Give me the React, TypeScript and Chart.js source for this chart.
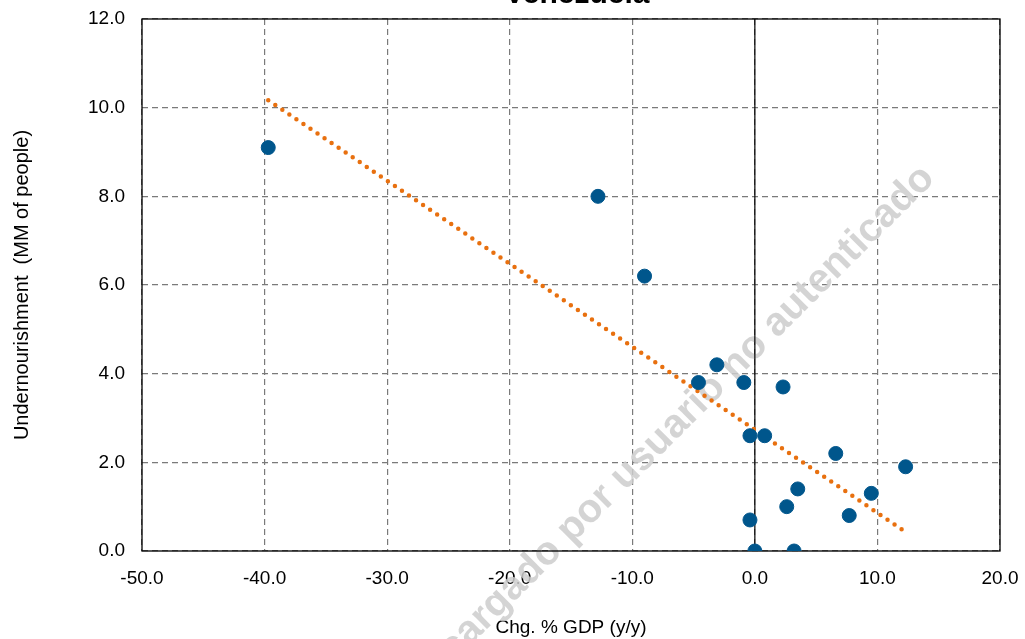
import React, { useEffect, useRef } from "react";
import { Chart, registerables } from "chart.js";

Chart.register(...registerables);

const titleText = "Venezuela";
const xAxisTitle = "Chg. % GDP (y/y)";
const yAxisTitle = "Undernourishment  (MM of people)";
const watermarkText = "Descargado por usuario no autenticado";

const gdpChange = [-39.7, -12.8, -9.0, -4.6, -3.1, -0.9, 2.3, -0.4, 0.8, 6.6, 12.3, 3.5, 9.5, 2.6, 7.7, -0.4, 0.0, 3.2];
const undernourished = [9.1, 8.0, 6.2, 3.8, 4.2, 3.8, 3.7, 2.6, 2.6, 2.2, 1.9, 1.4, 1.3, 1.0, 0.8, 0.7, 0.0, 0.0];

const trendX = [-39.7, 12.3];
const trendY = [10.17, 0.43];

const zeroLineX = [0, 0];
const zeroLineY = [0, 12];

const FONT = "'Liberation Sans', Arial, sans-serif";

export default function App() {
  const ref = useRef<HTMLCanvasElement | null>(null);

  useEffect(() => {
    if (!ref.current) return;
    const overlay = {
      id: "overlay",
      beforeDatasetsDraw(chart: any) {
        const { ctx, chartArea } = chart;
        ctx.save();
        ctx.translate(936, 180);
        ctx.rotate(-Math.PI / 4);
        ctx.font = `bold 40px ${FONT}`;
        ctx.fillStyle = "rgba(205,205,205,0.85)";
        ctx.textAlign = "right";
        ctx.textBaseline = "alphabetic";
        ctx.fillText(watermarkText, 0, 0);
        ctx.restore();
        ctx.save();
        ctx.strokeStyle = "#000";
        ctx.lineWidth = 1.3;
        ctx.strokeRect(chartArea.left, chartArea.top, chartArea.right - chartArea.left, chartArea.bottom - chartArea.top);
        ctx.restore();
      },
      afterDraw(chart: any) {
        const { ctx } = chart;
        ctx.save();
        ctx.font = `bold 30px ${FONT}`;
        ctx.fillStyle = "#000";
        ctx.textAlign = "center";
        ctx.textBaseline = "alphabetic";
        ctx.fillText(titleText, 577, 3);
        ctx.restore();
      },
    };

    const zeroPad = (s: any) => {
      s.paddingTop = 0;
      s.paddingBottom = 0;
      s.paddingLeft = 0;
      s.paddingRight = 0;
    };

    const chart = new Chart(ref.current, {
      type: "scatter",
      data: {
        datasets: [
          {
            label: "points",
            data: gdpChange.map((x, i) => ({ x, y: undernourished[i] })),
            backgroundColor: "#00568C",
            borderColor: "#00568C",
            pointRadius: 7,
            pointHoverRadius: 7,
            showLine: false,
          },
          {
            label: "trend",
            data: trendX.map((x, i) => ({ x, y: trendY[i] })),
            showLine: true,
            borderColor: "#E8700F",
            borderWidth: 4.5,
            borderDash: [0, 8.5],
            borderCapStyle: "round",
            pointRadius: 0,
            fill: false,
          },
          {
            label: "zero",
            data: zeroLineX.map((x, i) => ({ x, y: zeroLineY[i] })),
            showLine: true,
            borderColor: "#000",
            borderWidth: 1.2,
            pointRadius: 0,
            fill: false,
          },
        ],
      } as any,
      options: {
        animation: false,
        responsive: false,
        maintainAspectRatio: false,
        devicePixelRatio: 1,
        layout: { padding: { top: 19, right: 25, bottom: 0, left: 0 } },
        plugins: {
          legend: { display: false },
          tooltip: { enabled: false },
          title: { display: false },
        },
        scales: {
          x: {
            type: "linear",
            min: -50,
            max: 20,
            border: { display: false, dash: [6, 4] },
            grid: { color: "#7a7a7a", lineWidth: 1.2, drawTicks: false },
            ticks: {
              stepSize: 10,
              padding: 16,
              color: "#000",
              font: { family: FONT, size: 19 },
              callback: (v: any) => Number(v).toFixed(1),
            },
            title: {
              display: true,
              text: xAxisTitle,
              color: "#000",
              font: { family: FONT, size: 19 },
              padding: { top: 0, bottom: 0 },
            },
            afterFit: (s: any) => {
              s.height = 88;
              zeroPad(s);
            },
          } as any,
          y: {
            type: "linear",
            min: 0,
            max: 12,
            border: { display: false, dash: [6, 4] },
            grid: { color: "#7a7a7a", lineWidth: 1.2, drawTicks: false },
            ticks: {
              stepSize: 2,
              padding: 17,
              color: "#000",
              font: { family: FONT, size: 19 },
              callback: (v: any) => Number(v).toFixed(1),
            },
            title: {
              display: true,
              text: yAxisTitle,
              color: "#000",
              font: { family: FONT, size: 20 },
              padding: { top: 10, bottom: 0 },
            },
            afterFit: (s: any) => {
              s.width = 142;
              zeroPad(s);
            },
          } as any,
        },
      },
      plugins: [overlay],
    });
    return () => chart.destroy();
  }, []);

  return (
    <div style={{ position: "absolute", left: 0, top: 0, width: 1025, height: 639, background: "#fff" }}>
      <canvas ref={ref} width={1025} height={639} style={{ width: 1025, height: 639, display: "block" }} />
    </div>
  );
}
